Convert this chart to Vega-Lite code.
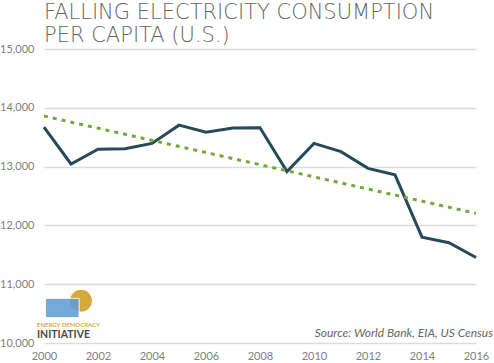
{
  "$schema": "https://vega.github.io/schema/vega-lite/v6.json",
  "width": 432,
  "height": 294,
  "autosize": {"type": "none"},
  "padding": {"left": 44, "top": 49, "right": 18, "bottom": 20},
  "background": "white",
  "title": {
    "text": ["FALLING ELECTRICITY CONSUMPTION", "PER CAPITA (U.S.)"],
    "anchor": "start",
    "frame": "group",
    "font": "DejaVu Sans",
    "fontWeight": 200,
    "fontSize": 21,
    "color": "#666666",
    "lineHeight": 23,
    "offset": -3
  },
  "config": {
    "view": {"stroke": null},
    "axis": {
      "labelFont": "Lato",
      "labelColor": "#808080",
      "labelFontSize": 11,
      "labelFlush": false,
      "domain": false,
      "ticks": false,
      "title": null
    }
  },
  "datasets": {
    "consumption": [
      {"year": 2000, "kwh": 13670},
      {"year": 2001, "kwh": 13045},
      {"year": 2002, "kwh": 13295},
      {"year": 2003, "kwh": 13305},
      {"year": 2004, "kwh": 13395},
      {"year": 2005, "kwh": 13705},
      {"year": 2006, "kwh": 13585},
      {"year": 2007, "kwh": 13655},
      {"year": 2008, "kwh": 13660},
      {"year": 2009, "kwh": 12915},
      {"year": 2010, "kwh": 13395},
      {"year": 2011, "kwh": 13255},
      {"year": 2012, "kwh": 12970},
      {"year": 2013, "kwh": 12860},
      {"year": 2014, "kwh": 11800},
      {"year": 2015, "kwh": 11705},
      {"year": 2016, "kwh": 11455}
    ],
    "trend": [
      {"year": 2000, "kwh": 13860},
      {"year": 2016, "kwh": 12205}
    ],
    "notes": [
      {"year": 2016, "kwh": 10100, "label": "Source: World Bank, EIA, US Census"}
    ],
    "logo": [
      {"year": 1999.74, "kwh": 10265, "label": "ENERGY DEMOCRACY", "kind": "top"},
      {"year": 1999.74, "kwh": 10080, "label": "INITIATIVE", "kind": "bottom"}
    ],
    "sun": [
      {"year": 2001.37, "kwh": 10720}
    ],
    "panel": [
      {"x0": 2000.05, "x1": 2001.3, "y0": 10430, "y1": 10760}
    ]
  },
  "layer": [
    {
      "data": {"name": "consumption"},
      "mark": {"type": "line", "color": "#274a5a", "strokeWidth": 3},
      "encoding": {
        "x": {
          "field": "year",
          "type": "quantitative",
          "scale": {"domain": [2000, 2016], "nice": false},
          "axis": {
            "values": [2000, 2002, 2004, 2006, 2008, 2010, 2012, 2014, 2016],
            "format": "d",
            "grid": false,
            "labelPadding": 7
          }
        },
        "y": {
          "field": "kwh",
          "type": "quantitative",
          "scale": {"domain": [10000, 15000], "nice": false, "zero": false},
          "axis": {
            "values": [10000, 11000, 12000, 13000, 14000, 15000],
            "format": ",d",
            "grid": true,
            "gridColor": "#dcdcdc",
            "gridWidth": 1.5,
            "labelPadding": 10
          }
        }
      }
    },
    {
      "data": {"name": "trend"},
      "mark": {"type": "line", "color": "#72a93a", "strokeWidth": 3, "strokeDash": [4, 5]},
      "encoding": {
        "x": {"field": "year", "type": "quantitative"},
        "y": {"field": "kwh", "type": "quantitative"}
      }
    },
    {
      "data": {"name": "notes"},
      "mark": {"type": "text", "align": "right", "baseline": "alphabetic", "dx": 17, "font": "Lato", "fontStyle": "italic", "fontSize": 12, "color": "#666666"},
      "encoding": {
        "x": {"field": "year", "type": "quantitative"},
        "y": {"field": "kwh", "type": "quantitative"},
        "text": {"field": "label"}
      }
    },
    {
      "data": {"name": "sun"},
      "mark": {"type": "circle", "color": "#d6a93c", "opacity": 1, "size": 480},
      "encoding": {
        "x": {"field": "year", "type": "quantitative"},
        "y": {"field": "kwh", "type": "quantitative"}
      }
    },
    {
      "data": {"name": "panel"},
      "mark": {"type": "rect", "color": "#5b9bd5", "opacity": 0.85, "stroke": "white", "strokeWidth": 1},
      "encoding": {
        "x": {"field": "x0", "type": "quantitative"},
        "x2": {"field": "x1"},
        "y": {"field": "y0", "type": "quantitative"},
        "y2": {"field": "y1"}
      }
    },
    {
      "data": {"name": "logo"},
      "mark": {"type": "text", "align": "left", "baseline": "alphabetic", "font": "Lato", "fontWeight": "bold"},
      "encoding": {
        "x": {"field": "year", "type": "quantitative"},
        "y": {"field": "kwh", "type": "quantitative"},
        "text": {"field": "label"},
        "size": {"field": "kind", "type": "nominal", "scale": {"domain": ["top", "bottom"], "range": [6, 10.5]}, "legend": null},
        "color": {"field": "kind", "type": "nominal", "scale": {"domain": ["top", "bottom"], "range": ["#d9a93a", "#4a4a4a"]}, "legend": null}
      }
    }
  ]
}
